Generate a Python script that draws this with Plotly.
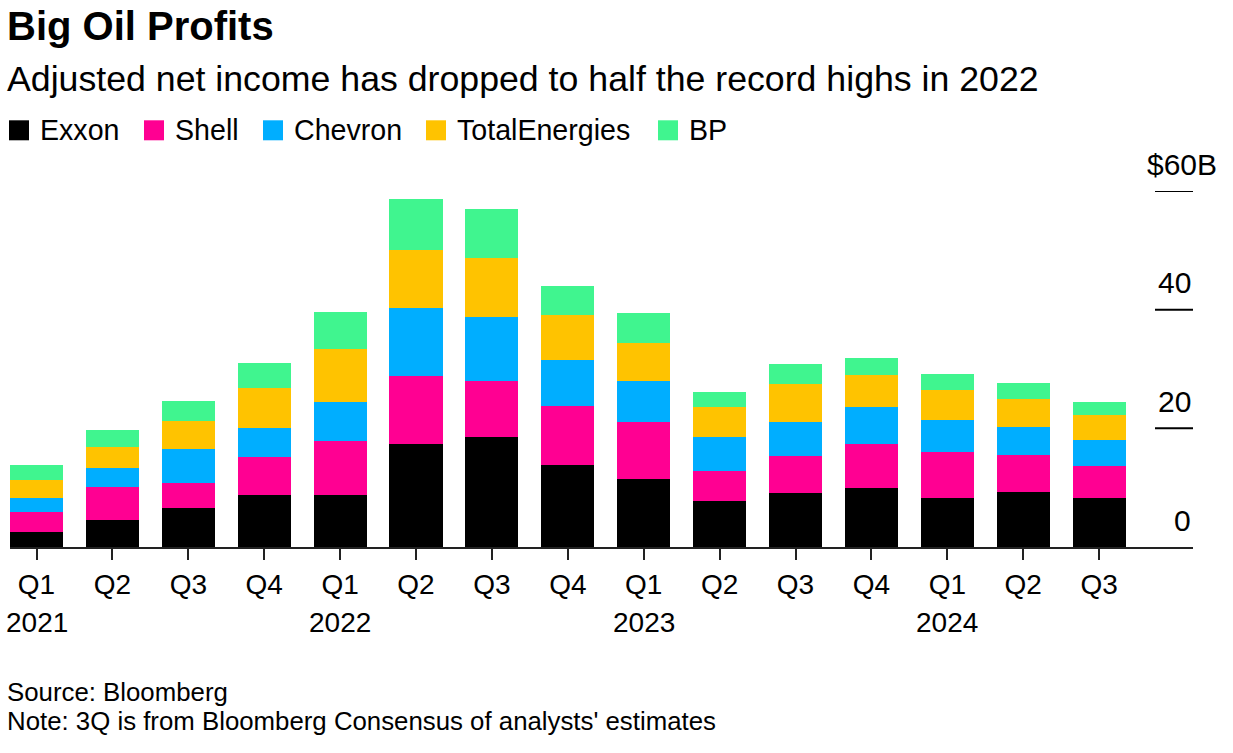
import plotly.graph_objects as go

# ---------------- data ----------------
quarters = ["Q1", "Q2", "Q3", "Q4", "Q1", "Q2", "Q3", "Q4",
            "Q1", "Q2", "Q3", "Q4", "Q1", "Q2", "Q3"]
years = ["2021", "2022", "2023", "2024"]
year_starts = [0, 4, 8, 12]

companies = ["Exxon", "Shell", "Chevron", "TotalEnergies", "BP"]
exxon = [2.58, 4.60, 6.62, 8.70, 8.75, 17.40, 18.57, 13.86, 11.50, 7.80, 9.09, 9.93, 8.25, 9.26, 8.25]
shell = [3.31, 5.56, 4.15, 6.40, 9.15, 11.50, 9.43, 9.88, 9.65, 5.05, 6.23, 7.35, 7.69, 6.29, 5.39]
chevron = [2.41, 3.20, 5.72, 4.88, 6.57, 11.39, 10.83, 7.86, 6.79, 5.72, 5.67, 6.40, 5.39, 4.66, 4.32]
total = [2.92, 3.53, 4.77, 6.85, 8.98, 9.82, 9.88, 7.58, 6.51, 5.00, 6.51, 5.28, 5.16, 4.71, 4.32]
bp = [2.64, 2.81, 3.31, 4.10, 6.23, 8.47, 8.19, 4.83, 4.94, 2.58, 3.37, 2.97, 2.75, 2.75, 2.13]

y_ticks = [0, 20, 40, 60]
y_tick_text = ["0", "20", "40", "$60B"]

title = "Big Oil Profits"
subtitle = "Adjusted net income has dropped to half the record highs in 2022"
source = "Source: Bloomberg"
note = "Note: 3Q is from Bloomberg Consensus of analysts' estimates"

# ---------------- style ----------------
colors = ["#000000", "#FF0092", "#00AEFF", "#FFC300", "#40F58F"]
FONT = "Liberation Sans, Arial, sans-serif"
W, H = 1233, 753
ML, MR, MT, MB = 10, 40, 190.7, 206.3
PW = W - ML - MR
PH = H - MT - MB


def px_x(x):
    return (x - ML) / PW


def px_y(y):
    return (H - MB - y) / PH


series = [exxon, shell, chevron, total, bp]
xpos = list(range(len(quarters)))

fig = go.Figure()
for name, vals, col in zip(companies, series, colors):
    fig.add_trace(go.Bar(
        x=xpos, y=vals, name=name,
        marker=dict(color=col, line=dict(width=0)),
        showlegend=False,
        hovertemplate=name + ": %{y:.1f}B<extra></extra>",
    ))

annotations = []
shapes = []

# title / subtitle
annotations.append(dict(text="<b>" + title + "</b>", xref="paper", yref="paper",
                        x=px_x(5), y=px_y(26), xanchor="left", yanchor="middle",
                        showarrow=False, font=dict(family=FONT, size=40, color="#000")))
annotations.append(dict(text=subtitle, xref="paper", yref="paper",
                        x=px_x(5), y=px_y(79), xanchor="left", yanchor="middle",
                        showarrow=False, font=dict(family=FONT, size=35.7, color="#000")))

# manual legend
legend_x = [9, 144, 263, 426, 658]
for name, col, lx in zip(companies, colors, legend_x):
    shapes.append(dict(type="rect", xref="paper", yref="paper",
                       x0=px_x(lx), x1=px_x(lx + 20), y0=px_y(140), y1=px_y(120),
                       fillcolor=col, line=dict(width=0)))
    annotations.append(dict(text=name, xref="paper", yref="paper",
                            x=px_x(lx + 29), y=px_y(130), xanchor="left", yanchor="middle",
                            showarrow=False, font=dict(family=FONT, size=28.6, color="#000")))

# y-axis labels and short tick segments on the right
for v, t in zip(y_ticks, y_tick_text):
    annotations.append(dict(text=t, xref="paper", yref="y", x=1, y=v,
                            xanchor="right", yanchor="middle", yshift=27,
                            xshift=26 if t.endswith("B") else 0,
                            showarrow=False, font=dict(family=FONT, size=30, color="#000")))
    if v != 0:
        shapes.append(dict(type="line", xref="paper", yref="y",
                           x0=px_x(1155), x1=1, y0=v, y1=v,
                           line=dict(color="#000", width=2)))

# year labels
for yr, pos in zip(years, year_starts):
    annotations.append(dict(text=yr, xref="x", yref="paper", x=pos, y=px_y(622),
                            xanchor="center", yanchor="middle", showarrow=False,
                            font=dict(family=FONT, size=28, color="#000")))

# footer
annotations.append(dict(text=source, xref="paper", yref="paper",
                        x=px_x(5), y=px_y(692), xanchor="left", yanchor="middle",
                        showarrow=False, font=dict(family=FONT, size=25.8, color="#000")))
annotations.append(dict(text=note, xref="paper", yref="paper",
                        x=px_x(5), y=px_y(721), xanchor="left", yanchor="middle",
                        showarrow=False, font=dict(family=FONT, size=25.8, color="#000")))

left_units = 26.5 / 75.9
fig.update_layout(
    width=W, height=H,
    margin=dict(l=ML, r=MR, t=MT, b=MB, pad=0),
    barmode="stack", bargap=0.3,
    paper_bgcolor="white", plot_bgcolor="white",
    showlegend=False,
    font=dict(family=FONT, color="#000"),
    annotations=annotations, shapes=shapes,
    xaxis=dict(range=[-left_units, -left_units + PW / 75.9],
               tickmode="array", tickvals=xpos, ticktext=quarters,
               showline=True, linecolor="#222", linewidth=2,
               ticks="outside", ticklen=11, tickwidth=1.5, tickcolor="#222",
               tickfont=dict(family=FONT, size=28, color="#000"),
               ticklabelstandoff=0,
               showgrid=False, zeroline=False, fixedrange=True),
    yaxis=dict(range=[0, 60], showticklabels=False, showgrid=False,
               zeroline=False, showline=False, ticks="", fixedrange=True),
)

fig.write_html("out.html")
